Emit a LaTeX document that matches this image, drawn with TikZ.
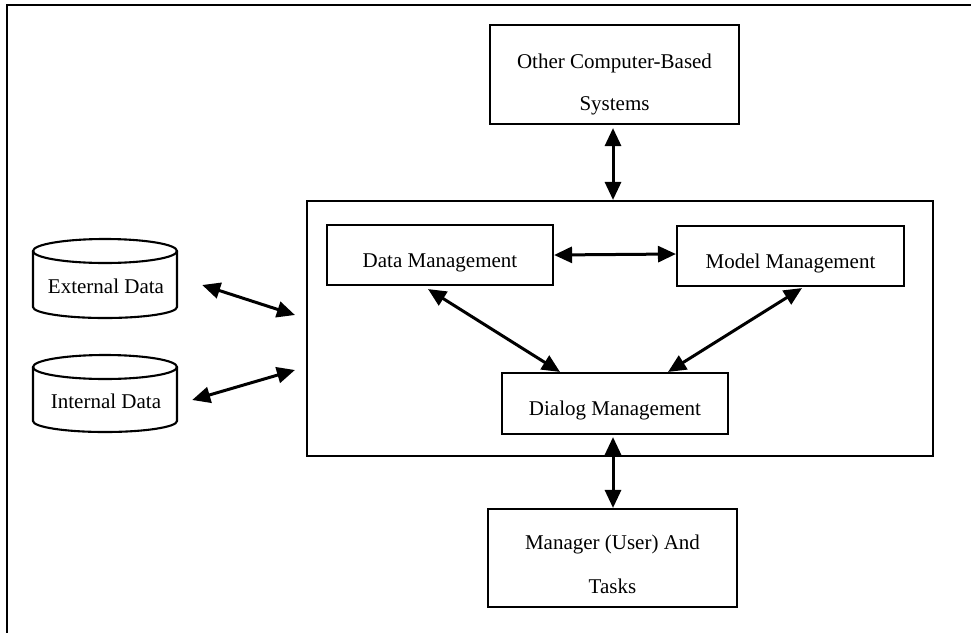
\documentclass[tikz,border=0pt]{standalone}
\usepackage{fontspec}
\setmainfont{Liberation Serif}
\usetikzlibrary{arrows.meta,calc}
\begin{document}
\begin{tikzpicture}[x=1pt,y=-1pt,
  every node/.style={font=\fontsize{21}{43}\selectfont},
  box/.style={draw,line width=2.1pt,inner sep=0pt},
  onebox/.style={box,text height=30pt,text depth=6pt},
  txt/.style={inner sep=0pt,anchor=base},
  link/.style={line width=3pt,{Triangle[length=18pt,width=16pt]}-{Triangle[length=18pt,width=16pt]}},
  frame/.style={line width=2.8pt},
  cyl/.style={line width=2.1pt}]
\useasboundingbox (0,0) rectangle (971,632);
% outer frame (only top and left visible)
\draw[frame] (7,634) -- (7,5) -- (973,5);
% boxes
\node[box,minimum width=249pt,minimum height=99pt] (oth) at (614.5,74.5) {};
\node[txt] (othA) at (614.5,68) {Other Computer-Based};
\node[txt] (othB) at (614.5,110) {Systems};
\node[box,minimum width=626pt,minimum height=255pt] (dss) at (620,328.5) {};
\node[onebox,minimum width=226pt,minimum height=60pt] (dm) at (440,255) {Data Management};
\node[onebox,minimum width=227pt,minimum height=60pt] (mm) at (790.5,256) {Model Management};
\node[onebox,minimum width=226pt,minimum height=61pt] (dlg) at (615,403.5) {Dialog Management};
\node[box,minimum width=249pt,minimum height=98pt] (mgr) at (612.5,558) {};
\node[txt] (mgrA) at (612.5,549) {Manager (User) And};
\node[txt] (mgrB) at (612.5,593) {Tasks};
% cylinders
\node[inner sep=0pt,minimum width=144pt,minimum height=79pt] (ext) at (105,278.5) {};
\draw[cyl] (105,251) ellipse [x radius=72pt,y radius=12pt];
\draw[cyl] (33,251) -- (33,307) arc[start angle=180,end angle=360,x radius=72pt,y radius=11pt] -- (177,251);
\node[txt] (extT) at (106,293) {External Data};
\node[inner sep=0pt,minimum width=144pt,minimum height=77pt] (int) at (105,393.5) {};
\draw[cyl] (105,367) ellipse [x radius=72pt,y radius=12pt];
\draw[cyl] (33,367) -- (33,421) arc[start angle=180,end angle=360,x radius=72pt,y radius=11pt] -- (177,367);
\node[txt] (intT) at (106,408) {Internal Data};
% connectors
\draw[link] ([xshift=-1.5pt,yshift=-3pt]oth.south) -- ([xshift=-1.5pt]oth.south |- dss.north);
\draw[link] ([xshift=-2pt,yshift=-2pt]dlg.south) -- ([xshift=-2pt]dlg.south |- mgr.north);
\draw[link] (dm.east) -- ([yshift=1pt]dm.east -| mm.west);
\draw[link] ([xshift=-12pt,yshift=-3pt]dm.south) -- ([xshift=-55pt]dlg.north);
\draw[link] ([xshift=11.5pt,yshift=-1pt]mm.south) -- ([xshift=53pt]dlg.north);
\draw[link] ([xshift=25pt,yshift=-6.5pt]ext.east) -- ([xshift=-11pt,yshift=13.5pt]dss.west);
\draw[link] ([xshift=15pt,yshift=-6.5pt]int.east) -- ([xshift=-11pt,yshift=-41.5pt]dss.west);
\end{tikzpicture}
\end{document}
